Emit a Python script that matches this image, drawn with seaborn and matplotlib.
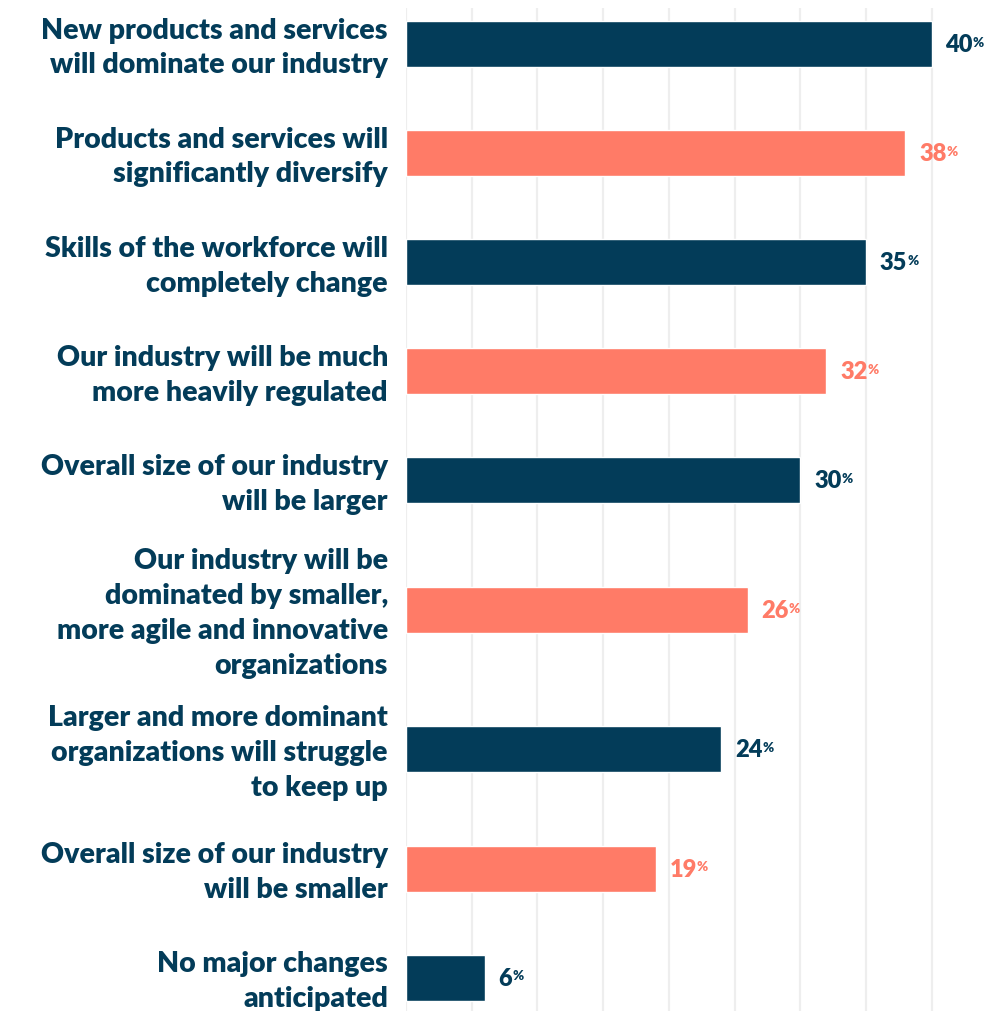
import numpy as np
import pandas as pd
import matplotlib
matplotlib.use("Agg")
import matplotlib.pyplot as plt
import matplotlib.transforms as mtransforms
import seaborn as sns

labels = [
    "New products and services\nwill dominate our industry",
    "Products and services will\nsignificantly diversify",
    "Skills of the workforce will\ncompletely change",
    "Our industry will be much\nmore heavily regulated",
    "Overall size of our industry\nwill be larger",
    "Our industry will be\ndominated by smaller,\nmore agile and innovative\norganizations",
    "Larger and more dominant\norganizations will struggle\nto keep up",
    "Overall size of our industry\nwill be smaller",
    "No major changes\nanticipated",
]
values = [40, 38, 35, 32, 30, 26, 24, 19, 6]

navy = "#033c59"
salmon = "#ff7b67"

sns.set_theme(style="white")
plt.rcParams["font.family"] = ["Lato", "DejaVu Sans"]

# vertical layout: rows with more label lines get more room
n_lines = np.array([l.count("\n") + 1 for l in labels])
steps = 68.5 + 20.3 * (n_lines[:-1] + n_lines[1:]) / 2
pos = 36 + np.concatenate([[0], np.cumsum(steps)])

df = pd.DataFrame({
    "label": labels,
    "value": values,
    "pos": pos,
    "group": ["a" if i % 2 == 0 else "b" for i in range(len(values))],
})

fig = plt.figure(figsize=(9.86, 10.12), dpi=100)
ax = fig.add_axes([406 / 986, 0, 580 / 986, 1003 / 1012])

bar_h = 46
sns.barplot(data=df, x="value", y="pos", hue="group", orient="h",
            native_scale=True, palette=[navy, salmon], legend=False,
            width=bar_h / steps.min(), saturation=1, ax=ax, zorder=3)

ax.set_xlim(0, 580 / 13.14)
ax.set_ylim(1003, 0)
ax.set_xticks(np.arange(0, 41, 5))
ax.xaxis.grid(True, color="#eeeeee", linewidth=1.6, zorder=0)
ax.set_axisbelow(True)
ax.tick_params(axis="x", length=0, labelbottom=False)
ax.tick_params(axis="y", length=0, pad=13)
ax.set_yticks(pos)
ax.set_yticklabels(labels, fontsize=20.5, fontweight="heavy", color=navy,
                   linespacing=1.42)
# nudge the label blocks up a little so they sit centred on the bars
shift = mtransforms.ScaledTranslation(0, 0.04, fig.dpi_scale_trans)
for lab in ax.get_yticklabels():
    lab.set_transform(lab.get_transform() + shift)
ax.set_xlabel("")
ax.set_ylabel("")
for s in ax.spines.values():
    s.set_visible(False)

for i, (v, p) in enumerate(zip(values, pos)):
    c = navy if i % 2 == 0 else salmon
    t = ax.annotate(f"{v}", xy=(v, p), xytext=(10, 0), textcoords="offset points",
                    ha="left", va="center", fontsize=17, fontweight="heavy", color=c)
    ax.annotate("%", xy=(1, 1), xycoords=t, xytext=(0, -2), textcoords="offset points",
                ha="left", va="top", fontsize=9.5, fontweight="heavy", color=c)

fig.savefig("out.png", dpi=100, facecolor="white")
